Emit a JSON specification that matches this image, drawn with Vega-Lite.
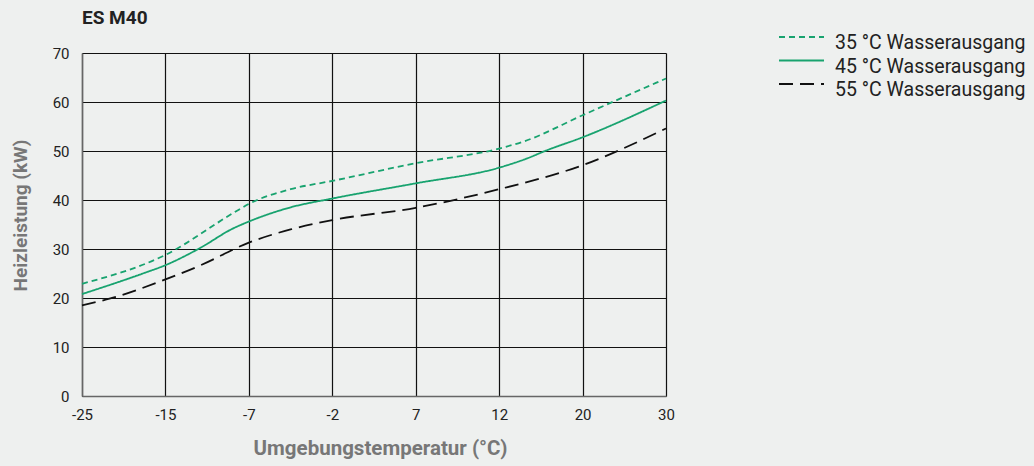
{
  "$schema": "https://vega.github.io/schema/vega-lite/v6.json",
  "width": 584,
  "height": 343,
  "autosize": "none",
  "padding": {"left": 82, "top": 53, "right": 368, "bottom": 70},
  "background": "#eef0ef",
  "title": {"text": "ES M40", "anchor": "start", "frame": "group", "offset": 4, "fontSize": 19, "font": "Roboto", "fontWeight": "bold", "color": "#222222"},
  "config": {"view": {"stroke": null}, "font": "Roboto"},
  "data": {"values": [
    {"s": "35 °C Wasserausgang", "t": -25, "v": 22.9},
    {"s": "35 °C Wasserausgang", "t": -15, "v": 28.8},
    {"s": "35 °C Wasserausgang", "t": -8.3, "v": 37.6},
    {"s": "35 °C Wasserausgang", "t": -7, "v": 39.2},
    {"s": "35 °C Wasserausgang", "t": -4.5, "v": 42.2},
    {"s": "35 °C Wasserausgang", "t": -2, "v": 43.9},
    {"s": "35 °C Wasserausgang", "t": 7, "v": 47.5},
    {"s": "35 °C Wasserausgang", "t": 12, "v": 50.5},
    {"s": "35 °C Wasserausgang", "t": 14.3, "v": 51.9},
    {"s": "35 °C Wasserausgang", "t": 20, "v": 57.3},
    {"s": "35 °C Wasserausgang", "t": 30, "v": 64.8},
    {"s": "45 °C Wasserausgang", "t": -25, "v": 20.8},
    {"s": "45 °C Wasserausgang", "t": -17.7, "v": 25.0},
    {"s": "45 °C Wasserausgang", "t": -15, "v": 26.7},
    {"s": "45 °C Wasserausgang", "t": -11.6, "v": 30.3},
    {"s": "45 °C Wasserausgang", "t": -8.6, "v": 34.1},
    {"s": "45 °C Wasserausgang", "t": -7, "v": 35.6},
    {"s": "45 °C Wasserausgang", "t": -4.5, "v": 38.5},
    {"s": "45 °C Wasserausgang", "t": -2, "v": 40.3},
    {"s": "45 °C Wasserausgang", "t": 7, "v": 43.4},
    {"s": "45 °C Wasserausgang", "t": 12, "v": 46.6},
    {"s": "45 °C Wasserausgang", "t": 14.7, "v": 48.5},
    {"s": "45 °C Wasserausgang", "t": 16.4, "v": 50.0},
    {"s": "45 °C Wasserausgang", "t": 20, "v": 52.8},
    {"s": "45 °C Wasserausgang", "t": 30, "v": 60.3},
    {"s": "55 °C Wasserausgang", "t": -25, "v": 18.5},
    {"s": "55 °C Wasserausgang", "t": -21.6, "v": 19.9},
    {"s": "55 °C Wasserausgang", "t": -15, "v": 23.8},
    {"s": "55 °C Wasserausgang", "t": -11.6, "v": 26.7},
    {"s": "55 °C Wasserausgang", "t": -7, "v": 31.3},
    {"s": "55 °C Wasserausgang", "t": -4.5, "v": 34.0},
    {"s": "55 °C Wasserausgang", "t": -2, "v": 35.9},
    {"s": "55 °C Wasserausgang", "t": 7, "v": 38.4},
    {"s": "55 °C Wasserausgang", "t": 12, "v": 42.2},
    {"s": "55 °C Wasserausgang", "t": 20, "v": 47.1},
    {"s": "55 °C Wasserausgang", "t": 30, "v": 54.6}
  ]},
  "mark": {"type": "line", "interpolate": "monotone", "strokeWidth": 1.8},
  "encoding": {
    "x": {
      "field": "t", "type": "quantitative",
      "scale": {"domain": [-25, -15, -7, -2, 7, 12, 20, 30], "range": [0, 83.43, 166.86, 250.29, 333.71, 417.14, 500.57, 584], "nice": false, "zero": false},
      "axis": {
        "values": [-25, -15, -7, -2, 7, 12, 20, 30],
        "labelExpr": "'' + datum.value",
        "title": "Umgebungstemperatur (°C)", "titleFontSize": 20.5, "titleColor": "#777777", "titleFontWeight": "bold", "titlePadding": 16, "titleX": 298,
        "labelFontSize": 15, "labelColor": "#222222", "labelPadding": 11, "labelFlush": false,
        "ticks": false, "grid": true, "gridColor": "#111111", "gridWidth": 1.2,
        "domainColor": "#666666", "domainWidth": 1.5
      }
    },
    "y": {
      "field": "v", "type": "quantitative",
      "scale": {"domain": [0, 70], "nice": false},
      "axis": {
        "values": [0, 10, 20, 30, 40, 50, 60, 70],
        "title": "Heizleistung (kW)", "titleFontSize": 19, "titleColor": "#777777", "titleFontWeight": "bold", "titlePadding": 22, "titleY": 162,
        "labelFontSize": 15, "labelColor": "#222222", "labelPadding": 13,
        "ticks": false, "grid": true, "gridColor": "#111111", "gridWidth": 1.2,
        "domainColor": "#666666", "domainWidth": 1.5
      }
    },
    "color": {
      "field": "s", "type": "nominal",
      "scale": {"domain": ["35 °C Wasserausgang", "45 °C Wasserausgang", "55 °C Wasserausgang"], "range": ["#18a36f", "#18a36f", "#111111"]},
      "legend": {"orient": "none", "legendX": 696, "legendY": -21, "title": null, "padding": 0, "symbolType": "M-1,-0.6H3.5", "symbolSize": 400, "symbolStrokeWidth": 1.8, "labelFontSize": 19.5, "labelColor": "#222222", "labelOffset": 35, "labelLimit": 0, "rowPadding": 2.5, "labelFont": "Roboto"}
    },
    "strokeDash": {
      "field": "s", "type": "nominal",
      "scale": {"domain": ["35 °C Wasserausgang", "45 °C Wasserausgang", "55 °C Wasserausgang"], "range": [[6, 4], [1, 0], [14, 7]]},
      "legend": {"orient": "none", "legendX": 696, "legendY": -21, "title": null, "padding": 0, "symbolType": "M-1,-0.6H3.5", "symbolSize": 400, "symbolStrokeWidth": 1.8, "labelFontSize": 19.5, "labelColor": "#222222", "labelOffset": 35, "labelLimit": 0, "rowPadding": 2.5, "labelFont": "Roboto"}
    }
  }
}
